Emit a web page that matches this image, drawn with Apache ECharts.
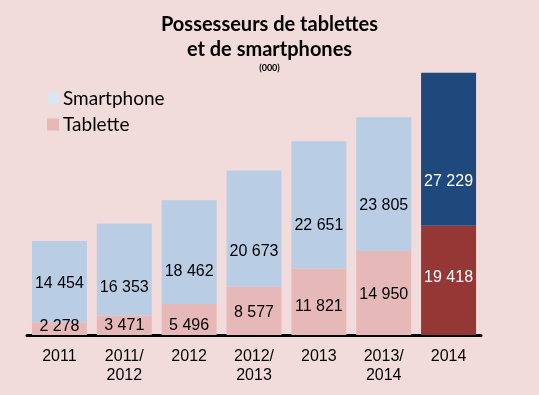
<!DOCTYPE html>
<html><head><meta charset="utf-8">
<script src="https://cdn.jsdelivr.net/npm/echarts@6/dist/echarts.min.js"></script>
<style>html,body{margin:0;padding:0;background:#F2DCDB;}#c{width:539px;height:395px;}</style>
</head><body><div id="c"></div>
<script>
const categories = ['2011', '2011/\n2012', '2012', '2012/\n2013', '2013', '2013/\n2014', '2014'];
const tablette = [2278, 3471, 5496, 8577, 11821, 14950, 19418];
const smartphone = [14454, 16353, 18462, 20673, 22651, 23805, 27229];
// label placement tweaks (px) to mimic original layout
const tabLabelShift = [-2, 0, 6, 2, 5, 2, -3];
const smLabelShift = [2, 18, 19, 23, 21, 22, 32];
const fmt = v => String(v).replace(/\B(?=(\d{3})+(?!\d))/g, ' ');
const lastIdx = categories.length - 1;
const mk = (arr, dark, shifts) => arr.map((v, i) => {
  const o = { value: v, label: { offset: [0, shifts[i]] } };
  if (i === lastIdx) { o.itemStyle = { color: dark }; o.label.color = '#ffffff'; }
  return o;
});
const chart = echarts.init(document.getElementById('c'), null, { renderer: 'canvas' });
chart.setOption({
  backgroundColor: '#F2DCDB',
  animation: false,
  title: {
    text: 'Possesseurs de tablettes\net de smartphones',
    subtext: '(000)',
    left: 'center', top: 7, itemGap: 2,
    textStyle: { fontFamily: 'Lato', fontWeight: 'bold', fontSize: 20, lineHeight: 25, color: '#000' },
    subtextStyle: { fontFamily: 'Lato', fontWeight: 'bold', fontSize: 9, color: '#000' }
  },
  legend: {
    orient: 'vertical', left: 47, top: 89, padding: 0, itemWidth: 12, itemHeight: 12, itemGap: 7,
    icon: 'rect',
    textStyle: { fontFamily: 'Lato', fontSize: 19, color: '#000', padding: [0, 0, 0, -1] },
    data: [
      { name: 'Smartphone', itemStyle: { color: '#DCE6F2' } },
      { name: 'Tablette', itemStyle: { color: '#E6B9B8' } }
    ]
  },
  grid: { left: 27, right: 58, top: 54, bottom: 60 },
  xAxis: {
    type: 'category', data: categories,
    axisLine: { lineStyle: { color: '#000', width: 3 } },
    axisTick: { show: false },
    axisLabel: { fontFamily: 'Liberation Sans', fontSize: 16, color: '#000', lineHeight: 19, margin: 12, interval: 0 }
  },
  yAxis: { type: 'value', min: 0, max: 50000, show: false, splitLine: { show: false } },
  series: [
    {
      name: 'Tablette', type: 'bar', stack: 'a', barWidth: 55,
      itemStyle: { color: '#E6B9B8' },
      label: { show: true, position: 'inside', fontFamily: 'Liberation Sans', fontSize: 16, color: '#000', formatter: p => fmt(p.value) },
      data: mk(tablette, '#953735', tabLabelShift)
    },
    {
      name: 'Smartphone', type: 'bar', stack: 'a', barWidth: 55,
      itemStyle: { color: '#B9CDE5' },
      label: { show: true, position: 'inside', fontFamily: 'Liberation Sans', fontSize: 16, color: '#000', formatter: p => fmt(p.value) },
      data: mk(smartphone, '#1F497D', smLabelShift)
    }
  ]
});
</script></body></html>
